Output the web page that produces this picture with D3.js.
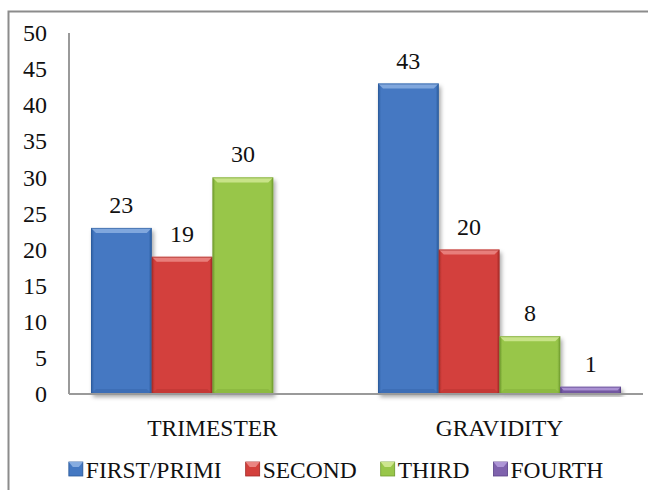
<!DOCTYPE html>
<html>
<head>
<meta charset="utf-8">
<script src="https://cdn.jsdelivr.net/npm/d3@7"></script>
<style>
  html, body { margin: 0; padding: 0; background: #fff; }
  svg { display: block; }
  text { font-family: "Liberation Serif", "DejaVu Serif", serif; fill: #111; }
</style>
</head>
<body>
<svg id="chart" width="648" height="490"></svg>
<script>
// Categories, series and values
const categories = ["TRIMESTER", "GRAVIDITY"];
const seriesNames = ["FIRST/PRIMI", "SECOND", "THIRD", "FOURTH"];
const trimesterValues = [23, 19, 30, null];
const gravidityValues = [43, 20, 8, 1];
const yTicks = [0, 5, 10, 15, 20, 25, 30, 35, 40, 45, 50];

// Bevelled bar palette: base, light top edge, dark side edges
const palette = [
  { base: "#4478c2", light: "#86ace0", dark: "#2c5b9c" },
  { base: "#d3403c", light: "#ea8582", dark: "#a52b28" },
  { base: "#98c64a", light: "#cde58f", dark: "#739e30" },
  { base: "#7f62ad", light: "#ae96d6", dark: "#5a4288" }
];

const rows = categories.map((c, i) => ({
  category: c,
  values: [trimesterValues, gravidityValues][i]
}));

const svg = d3.select("#chart");
const defs = svg.append("defs");

const shadow = defs.append("filter").attr("id", "barShadow")
  .attr("x", "-20%").attr("y", "-20%").attr("width", "150%").attr("height", "150%");
shadow.append("feDropShadow")
  .attr("dx", 2).attr("dy", 3).attr("stdDeviation", 2)
  .attr("flood-color", "#000").attr("flood-opacity", 0.35);

palette.forEach((p, i) => {
  const g = defs.append("linearGradient").attr("id", "grad" + i)
    .attr("x1", 0).attr("x2", 1).attr("y1", 0).attr("y2", 0);
  g.append("stop").attr("offset", "0%").attr("stop-color", p.dark);
  g.append("stop").attr("offset", "5%").attr("stop-color", p.base);
  g.append("stop").attr("offset", "95%").attr("stop-color", p.base);
  g.append("stop").attr("offset", "100%").attr("stop-color", p.dark);
});

// Outer frame (top and left edges)
svg.append("path")
  .attr("d", "M8.5,490 V11.5 H648")
  .attr("fill", "none").attr("stroke", "#8c8c8c").attr("stroke-width", 2);

const plot = { left: 69, right: 643, top: 33, bottom: 394 };

const y = d3.scaleLinear().domain([0, 50]).range([plot.bottom, plot.top]);
const x0 = d3.scaleBand().domain(categories).range([plot.left, plot.right]);
const x1 = d3.scaleBand().domain(seriesNames).range([0, x0.bandwidth()])
  .paddingInner(0).paddingOuter(0.362);

// Y axis labels
const yAxis = d3.axisLeft(y).tickValues(yTicks).tickSize(0).tickPadding(22);
const yg = svg.append("g").attr("transform", `translate(${plot.left},0)`).call(yAxis);
yg.select(".domain").remove();
yg.selectAll("text")
  .attr("font-size", 24)
  .attr("font-family", "Liberation Serif, serif")
  .attr("fill", "#111");

// Bars
const groups = svg.append("g").selectAll("g").data(rows).join("g")
  .attr("transform", d => `translate(${x0(d.category)},0)`);

const bars = groups.selectAll("g.bar")
  .data(d => d.values.map((v, i) => ({ name: seriesNames[i], value: v, idx: i })).filter(d => d.value != null))
  .join("g").attr("class", "bar");

bars.each(function(d) {
  const g = d3.select(this);
  const bx = x1(d.name), bw = x1.bandwidth();
  const top = y(d.value), h = y(0) - top;
  const p = palette[d.idx];
  g.append("rect")
    .attr("x", bx).attr("y", top).attr("width", bw).attr("height", h)
    .attr("fill", `url(#grad${d.idx})`).attr("filter", "url(#barShadow)");
  const bev = Math.min(5, h / 2);
  // top bevel
  g.append("path")
    .attr("d", `M${bx},${top} H${bx + bw} L${bx + bw - bev},${top + bev} H${bx + bev} Z`)
    .attr("fill", p.light).attr("opacity", 0.9);
  // bottom bevel
  g.append("path")
    .attr("d", `M${bx},${top + h} H${bx + bw} L${bx + bw - bev},${top + h - bev} H${bx + bev} Z`)
    .attr("fill", p.dark).attr("opacity", 0.3);
  // outline
  g.append("rect")
    .attr("x", bx + 0.5).attr("y", top + 0.5).attr("width", bw - 1).attr("height", Math.max(0, h - 1))
    .attr("fill", "none").attr("stroke", p.dark).attr("stroke-width", 1).attr("opacity", 0.6);
  // value label
  g.append("text")
    .attr("x", bx + bw / 2).attr("y", top - 15)
    .attr("text-anchor", "middle").attr("font-size", 24)
    .text(d.value);
});

// Axis lines
svg.append("line")
  .attr("x1", plot.left).attr("x2", plot.left)
  .attr("y1", plot.top).attr("y2", plot.bottom)
  .attr("stroke", "#9a9a9a").attr("stroke-width", 2);
svg.append("line")
  .attr("x1", plot.left).attr("x2", plot.right)
  .attr("y1", plot.bottom).attr("y2", plot.bottom)
  .attr("stroke", "#9a9a9a").attr("stroke-width", 2);

// Category labels
const xAxis = d3.axisBottom(x0).tickSize(0).tickPadding(0);
const xg = svg.append("g").attr("transform", `translate(0,${plot.bottom})`).call(xAxis);
xg.select(".domain").remove();
xg.selectAll("text")
  .attr("dy", null).attr("y", 42)
  .attr("font-size", 23.5)
  .attr("font-family", "Liberation Serif, serif")
  .attr("fill", "#111");

// Legend
const legend = svg.append("g");
const items = legend.selectAll("g").data(seriesNames).join("g");
items.append("rect")
  .attr("y", 462).attr("width", 14).attr("height", 14)
  .attr("fill", (d, i) => `url(#grad${i})`)
  .attr("stroke", (d, i) => palette[i].dark).attr("stroke-width", 0.8);
items.append("path")
  .attr("d", "M0,462 H14 L10,467 H4 Z")
  .attr("fill", (d, i) => palette[i].light);
items.append("text")
  .attr("x", 17).attr("y", 478)
  .attr("font-size", 23.5)
  .text(d => d);

const gap = 24;
let cursor = 0;
const offsets = [];
items.each(function() {
  offsets.push(cursor);
  cursor += this.getBBox().width + gap;
});
const total = cursor - gap;
const start = 336 - total / 2;
items.attr("transform", (d, i) => `translate(${start + offsets[i]},0)`);
</script>
</body>
</html>
